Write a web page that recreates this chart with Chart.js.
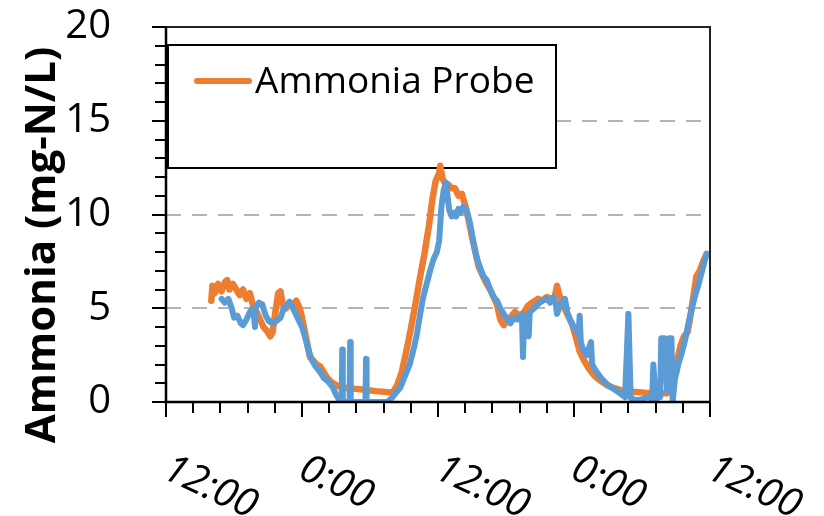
<!DOCTYPE html>
<html>
<head>
<meta charset="utf-8">
<script src="https://cdn.jsdelivr.net/npm/chart.js@4.4.1/dist/chart.umd.min.js"></script>
<style>
  html, body { margin: 0; padding: 0; background: #fff; }
  #caixa { width: 824px; height: 516px; }
</style>
</head>
<body>
<div id="caixa"><canvas id="grafico"></canvas></div>
<script>
// Dados (horas desde 12:00 do primeiro dia)
const horasSonda = [4.0, 4.1, 4.3, 4.6, 4.9, 5.2, 5.4, 5.6, 5.9, 6.2, 6.5, 6.8, 7.1, 7.4, 7.7, 8.0, 8.3, 8.6, 8.9, 9.2,
    9.4, 9.6, 9.9, 10.1, 10.3, 10.6, 10.9, 11.2, 11.5, 11.8, 12.0, 12.3, 12.5, 12.7, 13.0, 13.3, 13.6, 13.9, 14.2, 14.6,
    15.0, 15.4, 16.0, 16.8, 17.7, 18.5, 19.3, 20.0, 20.4, 20.8, 21.2, 21.6, 22.0, 22.4, 22.8, 23.2, 23.5, 23.8, 24.1, 24.2,
    24.4, 24.6, 24.9, 25.2, 25.5, 25.8, 26.1, 26.4, 26.7, 27.0, 27.3, 27.6, 27.9, 28.3, 28.6, 28.9, 29.2, 29.5, 29.8, 30.1,
    30.5, 30.8, 31.2, 31.5, 31.9, 32.3, 32.8, 33.2, 33.6, 34.0, 34.3, 34.5, 34.7, 35.0, 35.4, 35.8, 36.1, 36.5, 36.9, 37.3,
    37.8, 38.3, 38.9, 39.5, 40.2, 41.2, 42.2, 43.2, 44.2, 44.7, 45.1, 45.4, 45.7, 46.0, 46.2, 46.5, 46.8, 47.1, 47.4, 47.7];
const valoresSonda = [5.4, 6.2, 5.8, 6.3, 5.9, 6.4, 6.5, 6.0, 6.3, 6.0, 5.7, 6.0, 5.5, 5.8, 5.1, 4.8, 4.4, 4.0, 3.8, 3.5,
    3.7, 4.6, 5.8, 5.9, 5.2, 5.0, 5.3, 5.2, 5.4, 5.0, 4.5, 3.6, 3.0, 2.4, 2.2, 2.0, 1.9, 1.6, 1.3, 1.05,
    0.9, 0.8, 0.75, 0.7, 0.64, 0.58, 0.54, 0.5, 0.9, 1.6, 2.7, 3.9, 5.2, 6.6, 7.9, 9.4, 10.8, 11.8, 12.2, 12.6,
    11.9, 11.7, 11.6, 11.4, 11.4, 11.0, 11.1, 10.5, 9.7, 8.8, 8.0, 7.2, 6.8, 6.3, 6.0, 5.6, 5.2, 4.4, 4.1, 4.3,
    4.6, 4.8, 4.6, 4.7, 5.1, 5.3, 5.5, 5.4, 5.6, 5.5, 5.6, 6.2, 5.7, 5.2, 4.7, 4.2, 3.6, 2.7, 2.2, 1.8,
    1.4, 1.15, 0.9, 0.75, 0.62, 0.55, 0.5, 0.48, 0.46, 0.9, 2.2, 3.0, 3.5, 3.7, 4.3, 5.5, 6.7, 7.0, 7.5, 7.9];

const horasAnalisador = [4.9, 5.2, 5.5, 5.8, 6.0, 6.3, 6.6, 6.8, 7.1, 7.4, 7.7, 7.85, 7.9, 8.2, 8.5, 8.8, 9.1, 9.4, 9.7, 10.1,
    10.4, 10.9, 11.2, 11.6, 12.0, 12.3, 12.6, 12.9, 13.2, 13.6, 13.9, 14.3, 14.7, 15.0, 15.3, 15.5, 15.55, 15.6, 16.2, 16.25,
    16.3, 17.6, 17.65, 17.7, 18.6, 19.5, 19.9, 20.3, 20.7, 21.1, 21.5, 21.8, 22.1, 22.4, 22.7, 23.0, 23.3, 23.6, 23.9, 24.1,
    24.3, 24.5, 24.7, 24.8, 25.0, 25.2, 25.4, 25.6, 25.8, 26.0, 26.2, 26.5, 26.8, 27.1, 27.4, 27.7, 28.0, 28.3, 28.6, 28.9,
    29.2, 29.5, 29.8, 30.1, 30.4, 30.7, 31.0, 31.4, 31.5, 31.6, 32.0, 32.1, 32.5, 32.8, 33.2, 33.6, 33.9, 34.2, 34.4, 34.5,
    34.8, 35.2, 35.4, 35.7, 36.1, 36.4, 36.5, 36.6, 36.8, 37.1, 37.5, 37.6, 38.0, 38.5, 39.0, 39.5, 40.0, 40.5, 40.8, 41.0,
    41.5, 42.0, 42.4, 42.9, 43.0, 43.2, 43.6, 43.7, 44.0, 44.2, 44.4, 44.6, 44.7, 44.9, 45.2, 45.5, 45.8, 46.1, 46.4, 46.7,
    47.0, 47.3, 47.7];
const valoresAnalisador = [5.5, 5.3, 5.5, 5.0, 4.5, 4.6, 4.2, 4.1, 4.4, 4.8, 5.0, 4.0, 5.0, 5.3, 5.2, 4.6, 4.3, 4.2, 4.3, 4.5,
    5.0, 5.35, 5.0, 4.5, 4.0, 3.4, 2.7, 2.2, 1.9, 1.6, 1.3, 1.1, 0.8, 0.4, 0.1, 0, 2.8, 0, 0, 3.2,
    0, 0, 2.3, 0, 0, 0, 0.2, 0.5, 0.8, 1.4, 2.0, 2.7, 3.5, 4.6, 5.6, 6.3, 7.0, 7.6, 8.0, 8.6,
    10.4, 11.3, 11.7, 11.2, 10.2, 9.9, 10.1, 9.9, 10.3, 10.1, 10.4, 10.3, 9.6, 8.6, 7.7, 7.2, 6.7, 6.5, 6.0, 5.6,
    5.4, 5.0, 4.7, 4.4, 4.2, 4.5, 4.4, 4.7, 2.4, 4.6, 3.5, 4.8, 5.0, 5.2, 5.4, 5.5, 5.3, 5.6, 5.2, 4.7,
    5.2, 5.5, 4.8, 4.3, 3.9, 3.6, 4.6, 3.2, 2.8, 2.5, 3.2, 2.0, 1.6, 1.2, 0.9, 0.7, 0.5, 0.25, 4.7, 0.2,
    0.1, 0.15, 0.25, 0.2, 2.0, 0.2, 0.25, 3.4, 3.4, 0.6, 3.4, 3.4, 0.0, 1.2, 2.0, 2.6, 3.3, 4.2, 5.0, 5.7,
    6.3, 7.0, 7.9];

// Rotulos do eixo X e grade
const horasRotulos = [0, 12, 24, 36, 48];
const textosRotulos = ["12:00", "0:00", "12:00", "0:00", "12:00"];
const linhasGrade = [5, 10, 15];
const tituloY = "Ammonia (mg-N/L)";
const nomeSonda = "Ammonia Probe";
const nomeAnalisador = "Ammonia Analyzer";

const laranja = "#ED7D31";
const azul = "#5B9BD5";

function pontos(horas, valores) {
    return horas.map((h, i) => ({ x: h, y: valores[i] }));
}

// Grade, legenda, eixos e textos desenhados a mao
const moldura = {
    id: "moldura",
    beforeDatasetsDraw(chart) {
        const { ctx, chartArea: a, scales: { y } } = chart;
        ctx.save();
        ctx.strokeStyle = "#b4b4b4";
        ctx.lineWidth = 2;
        ctx.setLineDash([15, 11]);
        linhasGrade.forEach(v => {
            const py = Math.round(y.getPixelForValue(v));
            ctx.beginPath();
            ctx.moveTo(a.left, py);
            ctx.lineTo(a.right, py);
            ctx.stroke();
        });
        ctx.setLineDash([]);

        // legenda
        ctx.fillStyle = "#fff";
        ctx.fillRect(168, 45, 388, 123);
        ctx.strokeStyle = "#000";
        ctx.lineWidth = 2;
        ctx.strokeRect(168, 45, 388, 123);
        ctx.strokeStyle = laranja;
        ctx.lineWidth = 6;
        ctx.lineCap = "round";
        ctx.beginPath();
        ctx.moveTo(197, 81);
        ctx.lineTo(249, 81);
        ctx.stroke();
        ctx.fillStyle = "#000";
        ctx.font = "37px 'Open Sans'";
        ctx.textBaseline = "alphabetic";
        ctx.fillText(nomeSonda, 255, 93);
        ctx.restore();
    },
    afterDatasetsDraw(chart) {
        const { ctx, chartArea: a, scales: { x, y } } = chart;
        ctx.save();
        // moldura
        ctx.strokeStyle = "#222";
        ctx.lineWidth = 2;
        ctx.strokeRect(a.left, a.top, a.right - a.left, a.bottom - a.top);
        ctx.strokeStyle = "#000";
        ctx.lineWidth = 2.5;
        ctx.beginPath();
        ctx.moveTo(a.left, a.top);
        ctx.lineTo(a.left, a.bottom);
        ctx.lineTo(a.right, a.bottom);
        ctx.stroke();

        // marcas
        ctx.lineWidth = 2;
        y.ticks.forEach(t => {
            const py = Math.round(y.getPixelForValue(t.value));
            const len = t.value % 5 === 0 ? 14 : 11;
            ctx.beginPath();
            ctx.moveTo(a.left - len, py);
            ctx.lineTo(a.left, py);
            ctx.stroke();
        });
        x.ticks.forEach(t => {
            const px = Math.round(x.getPixelForValue(t.value));
            const len = t.value % 12 === 0 ? 15 : 11;
            ctx.beginPath();
            ctx.moveTo(px, a.bottom);
            ctx.lineTo(px, a.bottom + len);
            ctx.stroke();
        });

        // rotulos do eixo X inclinados
        ctx.fillStyle = "#000";
        ctx.font = "italic 40px 'Open Sans'";
        ctx.textBaseline = "alphabetic";
        ctx.textAlign = "left";
        horasRotulos.forEach((h, i) => {
            const px = x.getPixelForValue(h);
            ctx.save();
            ctx.translate(px + 7, 451);
            ctx.rotate(25 * Math.PI / 180);
            ctx.fillText(textosRotulos[i], 0, 29);
            ctx.restore();
        });

        // titulo do eixo Y
        ctx.font = "bold 42px 'Open Sans'";
        ctx.textAlign = "center";
        ctx.save();
        ctx.translate(55, 245);
        ctx.rotate(-Math.PI / 2);
        ctx.fillText(tituloY, 0, 0);
        ctx.restore();
        ctx.restore();
    }
};

Chart.defaults.font.family = "'Open Sans'";

new Chart(document.getElementById("grafico"), {
    type: "line",
    data: {
        datasets: [
            {
                label: nomeSonda,
                data: pontos(horasSonda, valoresSonda),
                borderColor: laranja,
                borderWidth: 6.5,
                pointRadius: 0,
                tension: 0,
                borderJoinStyle: "round",
                borderCapStyle: "round",
                order: 1
            },
            {
                label: nomeAnalisador,
                data: pontos(horasAnalisador, valoresAnalisador),
                borderColor: azul,
                borderWidth: 6,
                pointRadius: 0,
                tension: 0,
                borderJoinStyle: "round",
                borderCapStyle: "round",
                order: 0
            }
        ]
    },
    options: {
        responsive: true,
        maintainAspectRatio: false,
        animation: false,
        devicePixelRatio: 1,
        layout: { padding: { top: 27, right: 114, left: 0, bottom: 0 } },
        plugins: { legend: { display: false }, tooltip: { enabled: false } },
        scales: {
            x: {
                type: "linear",
                min: 0,
                max: 48,
                ticks: { display: false, stepSize: 2.4, autoSkip: false },
                grid: { display: false },
                border: { display: false },
                afterFit: s => { s.height = 114; s.paddingLeft = 0; s.paddingRight = 0; }
            },
            y: {
                min: 0,
                max: 20,
                ticks: {
                    stepSize: 1,
                    autoSkip: false,
                    padding: 47,
                    color: "#000",
                    font: { size: 40 },
                    callback: v => (v % 5 === 0 ? String(v) : "")
                },
                grid: { display: false },
                border: { display: false },
                afterFit: s => { s.width = 166; s.paddingTop = 0; s.paddingBottom = 0; }
            }
        }
    },
    plugins: [moldura]
});
</script>
</body>
</html>
